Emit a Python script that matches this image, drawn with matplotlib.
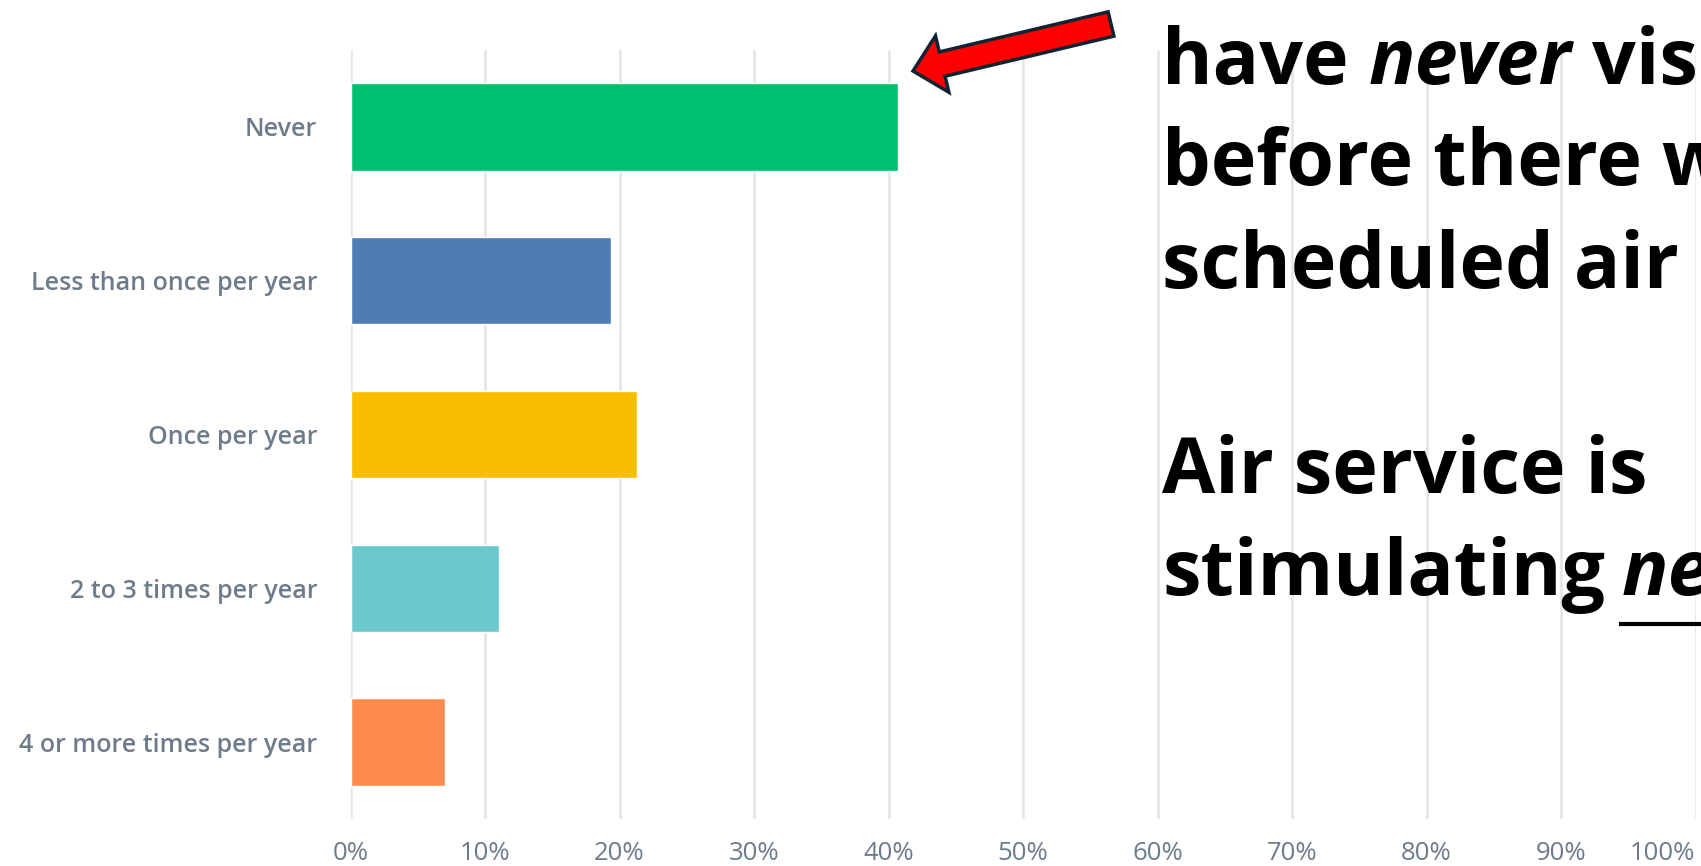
import matplotlib
matplotlib.use("Agg")
import matplotlib.pyplot as plt
from matplotlib.patches import FancyArrow
from matplotlib.lines import Line2D

categories = ["Never", "Less than once per year", "Once per year",
              "2 to 3 times per year", "4 or more times per year"]
values = [40.7, 19.35, 21.3, 11.05, 7.05]
colors = ["#00bf6f", "#507cb6", "#f9be00", "#6bc8cd", "#ff8b4f"]
xticks = [0, 10, 20, 30, 40, 50, 60, 70, 80, 90, 100]
xtick_labels = [str(t) + "%" for t in xticks]

W, H = 1701, 866
fig = plt.figure(figsize=(W / 100, H / 100), dpi=100)
fig.patch.set_facecolor("white")
ax = fig.add_axes([350.5 / W, 1 - 819 / H, 1345 / W, 769 / H])

pos = range(len(values))
ax.barh(pos, values, height=0.567, color=colors, edgecolor="white",
        linewidth=1.0, zorder=3)
ax.set_ylim(4.5, -0.5)
ax.set_xlim(0, 100)

ax.set_xticks(xticks)
ax.set_xticklabels(xtick_labels)
ax.set_yticks(list(pos))
ax.set_yticklabels(categories)

label_color = "#6e7b8b"
for lab in ax.get_xticklabels():
    lab.set_fontfamily("Open Sans")
    lab.set_fontsize(18.5)
    lab.set_fontweight("medium")
    lab.set_color(label_color)
ax.get_xticklabels()[-1].set_horizontalalignment("right")
for lab in ax.get_yticklabels():
    lab.set_fontfamily("Open Sans")
    lab.set_fontsize(18)
    lab.set_fontweight("semibold")
    lab.set_color(label_color)

ax.tick_params(axis="both", length=0)
ax.tick_params(axis="x", pad=16)
ax.tick_params(axis="y", pad=24)
for s in ax.spines.values():
    s.set_visible(False)
ax.grid(axis="x", color="#e4e4e4", linewidth=1.8, zorder=0)
ax.set_axisbelow(True)

# red arrow pointing at the "Never" bar (figure coordinates in inches)
tail = (11.11, (H - 24) / 100)
tip = (9.13, (H - 71) / 100)
arrow = FancyArrow(tail[0], tail[1], tip[0] - tail[0], tip[1] - tail[1],
                   width=0.25, head_width=0.58, head_length=0.30,
                   length_includes_head=True, facecolor="#ff0000",
                   edgecolor="#0e2433", linewidth=2.5,
                   transform=fig.dpi_scale_trans, zorder=10)
fig.patches.append(arrow)

# callout text on the right
big = dict(fontfamily="Open Sans", fontsize=55.5, fontweight="bold", color="black")
x0 = 1162 / W


def line_y(baseline_px):
    return 1 - baseline_px / H


t1 = fig.text(x0, line_y(84), "have", va="baseline", ha="left", **big)
t2 = fig.text(0, 0, "never", va="baseline", ha="left", fontstyle="italic", **big)
t3 = fig.text(0, 0, "visited", va="baseline", ha="left", **big)
fig.text(x0, line_y(185), "before there was", va="baseline", ha="left", **big)
fig.text(x0, line_y(288), "scheduled air service", va="baseline", ha="left", **big)
fig.text(x0, line_y(493), "Air service is", va="baseline", ha="left", **big)
t4 = fig.text(x0, line_y(595), "stimulating", va="baseline", ha="left", **big)
t5 = fig.text(0, 0, "new", va="baseline", ha="left", fontstyle="italic", **big)

fig.canvas.draw()
r = fig.canvas.get_renderer()
gap = 20
bb = t1.get_window_extent(r)
t2.set_position(((bb.x1 + gap) / W, line_y(84)))
fig.canvas.draw()
bb = t2.get_window_extent(r)
t3.set_position(((bb.x1 + gap) / W, line_y(84)))
bb = t4.get_window_extent(r)
t5.set_position(((bb.x1 + 16) / W, line_y(595)))
fig.canvas.draw()
bb = t5.get_window_extent(r)
fig.lines.append(Line2D([bb.x0 / W, bb.x1 / W], [1 - 624 / H, 1 - 624 / H],
                        transform=fig.transFigure, color="black", linewidth=3))

fig.savefig("out.png", dpi=100)
